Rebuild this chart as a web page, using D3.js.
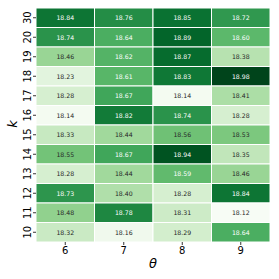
<!DOCTYPE html>
<html><head><meta charset="utf-8">
<script src="https://cdn.jsdelivr.net/npm/d3@7"></script>
<style>body{margin:0;background:#fff}</style>
</head><body>
<svg id="c" width="279" height="279"></svg>
<script>
const kLabels = ["30","20","19","18","17","16","15","14","13","12","11","10"];
const thetaLabels = ["6","7","8","9"];
const row30 = [18.84,18.76,18.85,18.72];
const row20 = [18.74,18.64,18.89,18.60];
const row19 = [18.46,18.62,18.87,18.38];
const row18 = [18.23,18.61,18.83,18.98];
const row17 = [18.28,18.67,18.14,18.41];
const row16 = [18.14,18.82,18.74,18.28];
const row15 = [18.33,18.44,18.56,18.53];
const row14 = [18.55,18.67,18.94,18.35];
const row13 = [18.28,18.44,18.59,18.46];
const row12 = [18.73,18.40,18.28,18.84];
const row11 = [18.48,18.78,18.31,18.12];
const row10 = [18.32,18.16,18.29,18.64];
const values = [row30,row20,row19,row18,row17,row16,row15,row14,row13,row12,row11,row10];

const svg = d3.select("#c");
const L=36, R=270, T=8, B=242;
const x = d3.scaleBand().domain(thetaLabels).range([L,R]);
const y = d3.scaleBand().domain(kLabels).range([T,B]);
const flat = values.flat();
const color = d3.scaleSequential(d3.interpolateGreens).domain([d3.min(flat), d3.max(flat)]);

function lum(c){
  const rgb = d3.rgb(c);
  const f = v => { v/=255; return v<=0.03928? v/12.92 : Math.pow((v+0.055)/1.055,2.4); };
  return 0.2126*f(rgb.r)+0.7152*f(rgb.g)+0.0722*f(rgb.b);
}

const cells = [];
values.forEach((row,i)=>row.forEach((v,j)=>cells.push({k:kLabels[i],t:thetaLabels[j],v})));

svg.selectAll("rect.cell").data(cells).enter().append("rect")
  .attr("x",d=>x(d.t)).attr("y",d=>y(d.k))
  .attr("width",x.bandwidth()).attr("height",y.bandwidth())
  .attr("fill",d=>color(d.v)).attr("stroke","#fff").attr("stroke-width",1);

svg.selectAll("text.val").data(cells).enter().append("text")
  .attr("x",d=>x(d.t)+x.bandwidth()/2).attr("y",d=>y(d.k)+y.bandwidth()/2)
  .attr("text-anchor","middle").attr("dominant-baseline","central")
  .attr("font-family","DejaVu Sans").attr("font-size",6.2)
  .attr("fill",d=>lum(color(d.v))>0.408?"#262626":"#fff")
  .text(d=>d.v.toFixed(2));

// x axis
const xa = svg.append("g").attr("transform",`translate(0,${B})`)
  .call(d3.axisBottom(x).tickSize(3).tickPadding(2));
xa.select(".domain").remove();
xa.selectAll("text").attr("font-family","DejaVu Sans").attr("font-size",10).attr("fill","#000");
xa.selectAll("line").attr("stroke","#000").attr("stroke-width",0.8);

// y axis
const ya = svg.append("g").attr("transform",`translate(${L},0)`)
  .call(d3.axisLeft(y).tickSize(3).tickPadding(2));
ya.select(".domain").remove();
ya.selectAll("line").attr("stroke","#000").attr("stroke-width",0.8);
ya.selectAll("text").attr("font-family","DejaVu Sans").attr("font-size",10).attr("fill","#000")
  .attr("text-anchor","middle").attr("dy",null).attr("dominant-baseline",null)
  .attr("x",0).attr("y",0)
  .attr("transform","translate(-9,0) rotate(-90) translate(0,3.5)");

svg.append("text").attr("x",153).attr("y",268).attr("text-anchor","middle")
  .attr("font-family","DejaVu Sans").attr("font-style","italic").attr("font-size",13).text("θ");
svg.append("text").attr("transform","translate(17,124) rotate(-90)").attr("text-anchor","middle")
  .attr("font-family","DejaVu Sans").attr("font-style","italic").attr("font-size",13).text("k");
</script>
</body></html>
